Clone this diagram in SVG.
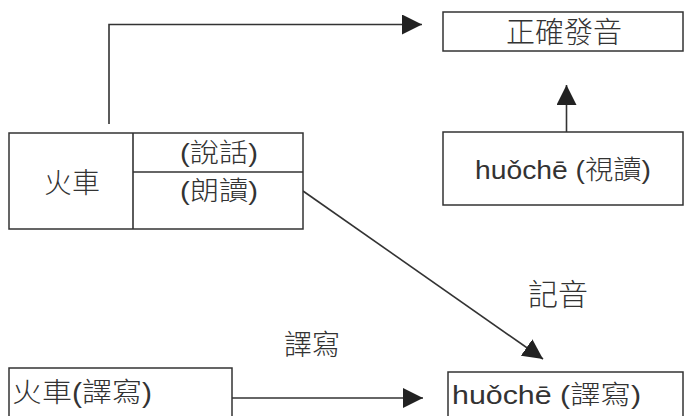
<svg xmlns="http://www.w3.org/2000/svg" width="685" height="416" viewBox="0 0 685 416">
<defs>
<style>
.box{fill:#fff;stroke:#333;stroke-width:1.5}
.ln{fill:none;stroke:#333;stroke-width:1.6}
.t{font-family:"Liberation Sans","Noto Sans CJK TC",sans-serif;fill:#333;font-weight:300}
.c{text-anchor:middle}
</style>
<marker id="ah" viewBox="0 0 20 20" refX="20" refY="10" markerWidth="20" markerHeight="20" markerUnits="userSpaceOnUse" orient="auto">
<path d="M0,0 L20,10 L0,20 Z" fill="#222"/>
</marker>
</defs>
<rect width="685" height="416" fill="#fff"/>
<g id="connectors">
<path class="ln" d="M109,124 V24.5 H422" stroke="#4a3d4a" marker-end="url(#ah)"/>
<path class="ln" d="M566.5,132 V85" marker-end="url(#ah)"/>
<path class="ln" d="M303,191 L543,359" marker-end="url(#ah)"/>
<path class="ln" d="M232,398 H423" marker-end="url(#ah)"/>
</g>
<g id="n-correct">
<rect class="box" x="443" y="12" width="240" height="39"/>
<text class="t c" x="564" y="43" font-size="29">正確發音</text>
</g>
<g id="n-shidu">
<rect class="box" x="443" y="132" width="240" height="73"/>
<text class="t c" x="563" y="179" font-size="26" textLength="176" lengthAdjust="spacingAndGlyphs">huǒchē (視讀)</text>
</g>
<g id="n-huoche">
<rect class="box" x="9" y="133" width="294" height="96"/>
<line class="ln" x1="133" y1="133" x2="133" y2="229"/>
<line class="ln" x1="133" y1="172" x2="303" y2="172"/>
<text class="t c" x="72" y="193" font-size="28">火車</text>
<text class="t c" x="219" y="162" font-size="26" textLength="78" lengthAdjust="spacingAndGlyphs">(說話)</text>
<text class="t c" x="219" y="200" font-size="26" textLength="78" lengthAdjust="spacingAndGlyphs">(朗讀)</text>
</g>
<g id="labels">
<text class="t c" x="558" y="305" font-size="30">記音</text>
<text class="t c" x="312" y="355" font-size="28">譯寫</text>
</g>
<g id="n-yixie">
<rect class="box" x="9" y="368" width="223" height="60"/>
<text class="t" x="12" y="402" font-size="27" textLength="140" lengthAdjust="spacingAndGlyphs">火車(譯寫)</text>
</g>
<g id="n-huoche-yixie">
<rect class="box" x="448" y="372" width="235" height="60"/>
<text class="t" x="452" y="404" font-size="26" textLength="189" lengthAdjust="spacingAndGlyphs">huǒchē (譯寫)</text>
</g>
</svg>
